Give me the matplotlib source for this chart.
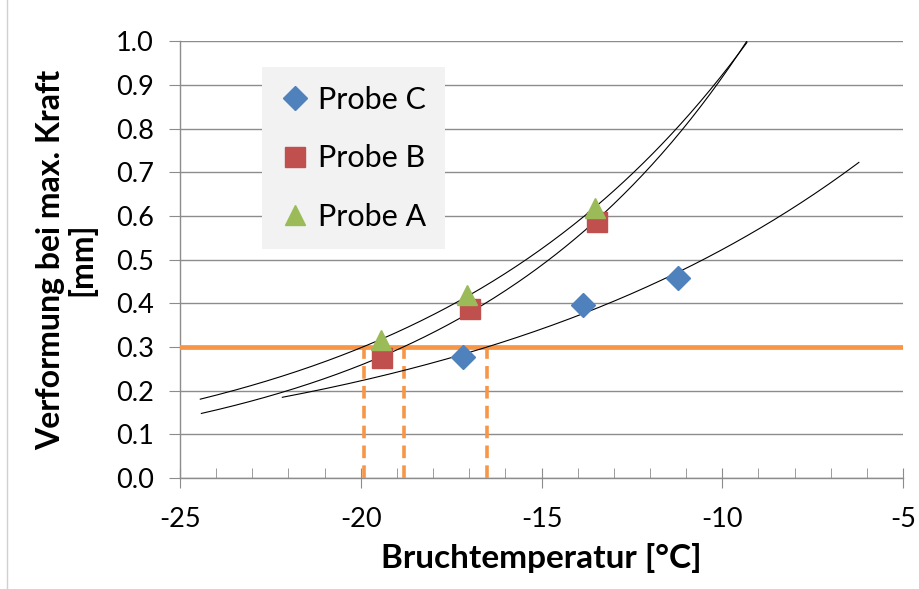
import numpy as np
import matplotlib
matplotlib.use("Agg")
import matplotlib.pyplot as plt
from matplotlib.ticker import MultipleLocator, FormatStrFormatter

plt.rcParams['font.family'] = ['Lato', 'DejaVu Sans']
plt.rcParams['axes.unicode_minus'] = False

# Data
probe_c_x = [-17.17, -13.85, -11.22]
probe_c_y = [0.277, 0.396, 0.458]
probe_b_x = [-19.41, -16.98, -13.47]
probe_b_y = [0.275, 0.387, 0.586]
probe_a_x = [-19.44, -17.06, -13.52]
probe_a_y = [0.316, 0.419, 0.618]
threshold = 0.3
crossing_x = [-19.9, -18.8, -16.5]
forecast = 5.0

fig = plt.figure(figsize=(9.2, 5.89), dpi=100)
ax = fig.add_axes([0.1957, 0.1885, 0.7858, 0.7415])
ax.set_xlim(-25, -5)
ax.set_ylim(0, 1.0)

# exponential trend lines (Excel style, forecast 5 units both ways)
def trend(xs, ys):
    b, a = np.polyfit(xs, np.log(ys), 1)
    xx = np.linspace(min(xs) - forecast, max(xs) + forecast, 300)
    yy = np.exp(a + b * xx)
    m = yy <= 1.0
    return xx[m], yy[m]

for xs, ys in [(probe_a_x, probe_a_y), (probe_b_x, probe_b_y), (probe_c_x, probe_c_y)]:
    tx, ty = trend(xs, ys)
    ax.plot(tx, ty, color='black', lw=0.8, zorder=4)

ax.axhline(threshold, color='#F79646', lw=3.4, zorder=3)
for cx in crossing_x:
    ax.plot([cx, cx], [0, threshold], color='#F79646', lw=2.6, ls=(0, (3.5, 2.0)), zorder=3)

ax.plot(probe_c_x, probe_c_y, ls='none', marker='D', ms=12, color='#4F81BD', label='Probe C', zorder=5)
ax.plot(probe_b_x, probe_b_y, ls='none', marker='s', ms=14, color='#C0504D', label='Probe B', zorder=5)
ax.plot(probe_a_x, probe_a_y, ls='none', marker='^', ms=15, color='#9BBB59', label='Probe A', zorder=6)

ax.yaxis.set_major_locator(MultipleLocator(0.1))
ax.yaxis.set_major_formatter(FormatStrFormatter('%.1f'))
ax.xaxis.set_major_locator(MultipleLocator(5))
ax.xaxis.set_minor_locator(MultipleLocator(1))
ax.grid(axis='y', color='#8c8c8c', lw=1.0, zorder=0)
ax.set_axisbelow(True)
for s in ['top', 'right']:
    ax.spines[s].set_visible(False)
for s in ['left', 'bottom']:
    ax.spines[s].set_color('#8c8c8c')
    ax.spines[s].set_linewidth(1.0)
ax.tick_params(axis='y', which='major', direction='out', length=8, color='#8c8c8c', labelsize=19.5, pad=11)
ax.tick_params(axis='x', which='major', direction='inout', length=14, color='#8c8c8c', labelsize=19.5, pad=14)
ax.tick_params(axis='x', which='minor', direction='in', length=7, color='#8c8c8c')

ax.set_xlabel('Bruchtemperatur [°C]', fontsize=24, fontweight='bold', labelpad=8)
ax.set_ylabel('Verformung bei max. Kraft\n[mm]', fontsize=23, fontweight='bold', labelpad=14, linespacing=1.05)

leg = ax.legend(loc='upper left', bbox_to_anchor=(0.113, 0.94), borderaxespad=0, frameon=True, fancybox=False,
                facecolor='#f2f2f2', edgecolor='none', framealpha=1.0, fontsize=22,
                handletextpad=0.25, labelspacing=1.0, borderpad=0.6, handlelength=1.0)

fig.add_artist(plt.Line2D([0.008, 0.008], [0, 1], transform=fig.transFigure, color='#d0d0d0', lw=1))

fig.savefig('out.png', dpi=100)
